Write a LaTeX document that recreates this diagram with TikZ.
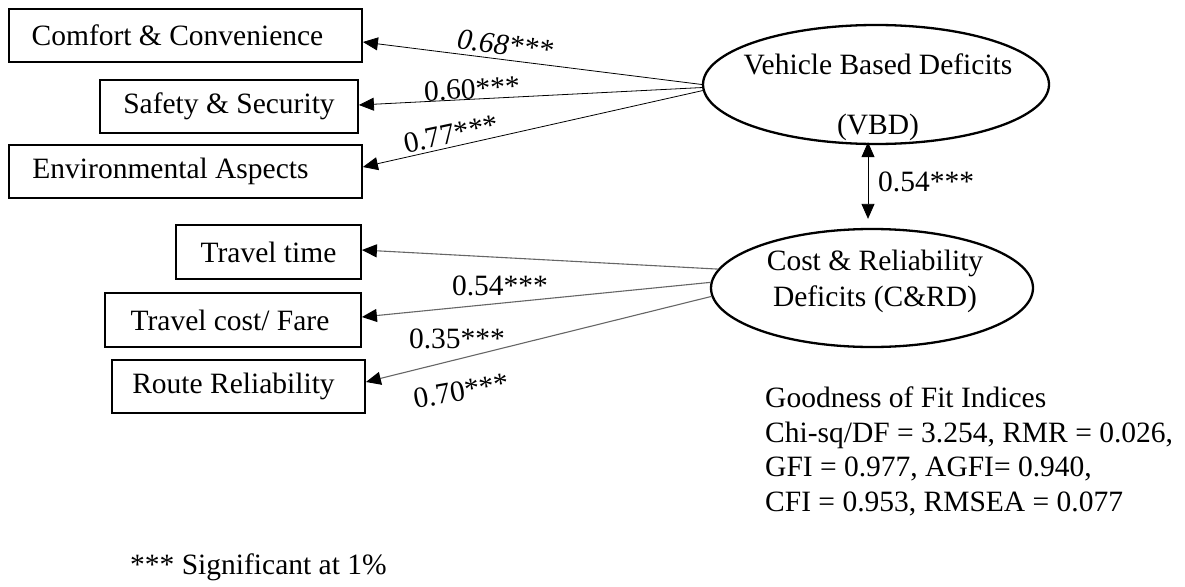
\documentclass[tikz,border=0pt]{standalone}
\usepackage{fontspec}
\setmainfont{Liberation Serif}
\usetikzlibrary{arrows.meta,shapes.geometric}
\definecolor{pathgray}{HTML}{666666}
\newcommand\figfont{\fontsize{29.5}{35}\selectfont}
\tikzset{
  every node/.style={font=\figfont, inner sep=0pt},
  indicator/.style={draw, rectangle, line width=1.8pt},
  latent/.style={draw, ellipse, line width=2.3pt},
  loading/.style={-{Triangle[length=15pt,width=13pt,color=black]}, line width=0.8pt},
  loadinggray/.style={loading, draw=pathgray, line width=1.1pt},
  corr/.style={{Triangle[length=15pt,width=13pt]}-{Triangle[length=15pt,width=13pt]}, line width=0.8pt},
}
\begin{document}
\begin{tikzpicture}[x=1pt,y=-1pt]
\useasboundingbox (0,0) rectangle (1185,586);

% observed indicators
\node[indicator, minimum width=353pt, minimum height=53pt] (cc) at (185.5,35.5) {\hspace*{-16pt}Comfort \& Convenience};
\node[indicator, minimum width=258pt, minimum height=53pt] (ss) at (229,106.5) {Safety \& Security};
\node[indicator, minimum width=353pt, minimum height=53pt] (ea) at (185.5,171.5) {\hspace*{-30pt}Environmental Aspects};
\node[indicator, minimum width=185pt, minimum height=54pt] (tt) at (268.5,252) {Travel time};
\node[indicator, minimum width=256pt, minimum height=54pt] (tc) at (233,320) {\hspace*{-6pt}Travel cost/ Fare};
\node[indicator, minimum width=253pt, minimum height=53pt] (rr) at (238.5,386.5) {\hspace*{-10pt}Route Reliability};

% latent constructs
\node[latent, minimum width=346pt, minimum height=119pt] (vbd) at (876,84.5) {};
\node (vbdA) at (878,64) {Vehicle Based Deficits};
\node (vbdB) at (878,127) {(VBD)};
\node[latent, minimum width=322pt, minimum height=118pt] (crd) at (872,288) {};
\node (crdA) at (875,263) {Cost \& Reliability};
\node (crdB) at (875,299) {Deficits (C\&RD)};

% factor loadings
\draw[loading] (vbd.west) -- ([yshift=-6.5pt]cc.east);
\draw[loading] (vbd.181) -- ([yshift=1.5pt]ss.east);
\draw[loading] (vbd.182.5) -- ([yshift=4.5pt]ea.east);
\draw[loadinggray] (crd.173.5) -- ([yshift=2pt]tt.east);
\draw[loadinggray] (crd.178.5) -- ([yshift=3pt]tc.east);
\draw[loadinggray] (crd.183) -- ([yshift=4.5pt]rr.east);

% correlation between constructs
\draw[corr] ([xshift=-8pt,yshift=3pt]vbd.south) -- ([xshift=-4pt,yshift=9pt]crd.north);

% coefficients
\node[font=\figfont\itshape, rotate=-7] (k1) at (505,45) {0.68***};
\node[rotate=3] (k2) at (472,89) {0.60***};
\node[rotate=12] (k3) at (451,134) {0.77***};
\node (k4) at (500,286) {0.54***};
\node (k5) at (457,339) {0.35***};
\node[rotate=10] (k6) at (461,391) {0.70***};
\node[anchor=west] (k7) at (878,182) {0.54***};

% fit statistics
\node[anchor=base west] (g1) at (765,407.5) {Goodness of Fit Indices};
\node[anchor=base west] (g2) at (765,442.2) {Chi-sq/DF = 3.254, RMR = 0.026,};
\node[anchor=base west] (g3) at (765,476.9) {GFI = 0.977, AGFI= 0.940,};
\node[anchor=base west] (g4) at (765,511.6) {CFI = 0.953, RMSEA = 0.077};

\node[anchor=base west] (sig) at (130,574.5) {*** Significant at 1\%};
\end{tikzpicture}
\end{document}
